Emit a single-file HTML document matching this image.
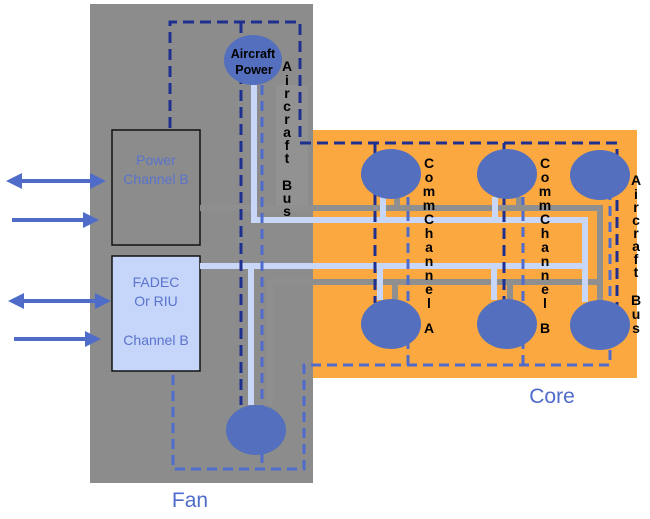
<!DOCTYPE html>
<html><head><meta charset="utf-8"><style>
html,body{margin:0;padding:0;background:#fff;}
svg{display:block;font-family:"Liberation Sans",sans-serif;}
</style></head><body>
<svg width="650" height="519" viewBox="0 0 650 519" xmlns="http://www.w3.org/2000/svg">
<defs>
<marker id="ah" markerWidth="4" markerHeight="4" refX="2.5" refY="2" orient="auto-start-reverse" markerUnits="strokeWidth"><path d="M0,0 L4,2 L0,4 Z" fill="#4f6cc8"/></marker>
</defs>
<rect x="90" y="4" width="223" height="479" fill="#8c8c8c"/>
<rect x="313" y="130" width="324" height="248" fill="#fca841"/>
<rect x="276" y="85" width="32" height="120" fill="#929292"/>
<rect x="112" y="130" width="88" height="115" fill="#8c8c8c" stroke="#111" stroke-width="1.5"/>
<rect x="112" y="256" width="88" height="115" fill="#c6d6fb" stroke="#111" stroke-width="1.5"/>
<g stroke="#8f8f8f" stroke-width="6" fill="none">
<path d="M200 208 H600 V282"/>
<path d="M270 405 V282 H600"/>
<path d="M397 197 V208 M519 197 V208 M395 282 V300 M510 282 V300 M600 282 V302"/>
</g>
<g stroke="#c8d6f8" stroke-width="6" fill="none">
<path d="M254 85 V220 H585 V302"/>
<path d="M200 266 H585"/>
<path d="M251 266 V405"/>
<path d="M383 197 V220 M495 197 V220 M380 266 V300 M494 266 V300"/>
</g>
<g stroke="#1f2f8f" stroke-width="3" fill="none" stroke-dasharray="11 6">
<path d="M170 128 V22 H300 V143 H617 V305"/>
<path d="M241 22 V405"/>
<path d="M375 143 V303 M504 143 V303"/>
</g>
<g stroke="#4f6ccc" stroke-width="3" fill="none" stroke-dasharray="10 6">
<path d="M173 375 V469 H304 V365 H610 V197"/>
<path d="M262 85 V470"/>
<path d="M408 365 V197 M523 365 V197"/>
</g>
<g fill="#536fbd">
<ellipse cx="253" cy="60" rx="29" ry="25"/>
<ellipse cx="256" cy="430" rx="30" ry="25"/>
<ellipse cx="391" cy="174" rx="30" ry="25"/>
<ellipse cx="507" cy="174" rx="30" ry="25"/>
<ellipse cx="600" cy="175" rx="30" ry="25"/>
<ellipse cx="391" cy="324" rx="30" ry="25"/>
<ellipse cx="507" cy="324" rx="30" ry="25"/>
<ellipse cx="600" cy="325" rx="30" ry="25"/>
</g>
<text x="253" y="58" font-size="12.5" font-weight="bold" text-anchor="middle" fill="#000">Aircraft</text>
<text x="254" y="74" font-size="12.5" font-weight="bold" text-anchor="middle" fill="#000">Power</text>
<g stroke="#4f6cc8" stroke-width="4" fill="none">
<path d="M12 181 H100" marker-start="url(#ah)" marker-end="url(#ah)"/>
<path d="M12 220 H93" marker-end="url(#ah)"/>
<path d="M14 301 H105" marker-start="url(#ah)" marker-end="url(#ah)"/>
<path d="M14 339 H95" marker-end="url(#ah)"/>
</g>
<g fill="#5a73cc" font-size="14" text-anchor="middle">
<text x="156" y="165">Power</text>
<text x="156" y="184">Channel B</text>
<text x="156" y="287">FADEC</text>
<text x="156" y="306">Or RIU</text>
<text x="156" y="345">Channel B</text>
</g>
<text x="190" y="507" font-size="21" fill="#4f6ccc" text-anchor="middle">Fan</text>
<text x="552" y="403" font-size="21" fill="#4f6ccc" text-anchor="middle">Core</text>
<g font-size="14" font-weight="bold" fill="#000" text-anchor="middle">
<text x="287" y="71">A</text><text x="287" y="85">i</text><text x="287" y="98">r</text><text x="287" y="111">c</text><text x="287" y="124">r</text><text x="287" y="137">a</text><text x="287" y="150">f</text><text x="287" y="163">t</text><text x="287" y="190">B</text><text x="287" y="203">u</text><text x="287" y="216">s</text>
<text x="429" y="168">C</text><text x="429" y="182">o</text><text x="429" y="196">m</text><text x="429" y="210">m</text><text x="429" y="224">C</text><text x="429" y="238">h</text><text x="429" y="252">a</text><text x="429" y="266">n</text><text x="429" y="280">n</text><text x="429" y="294">e</text><text x="429" y="308">l</text><text x="429" y="333">A</text>
<text x="545" y="168">C</text><text x="545" y="182">o</text><text x="545" y="196">m</text><text x="545" y="210">m</text><text x="545" y="224">C</text><text x="545" y="238">h</text><text x="545" y="252">a</text><text x="545" y="266">n</text><text x="545" y="280">n</text><text x="545" y="294">e</text><text x="545" y="308">l</text><text x="545" y="333">B</text>
<text x="636" y="185">A</text><text x="636" y="199">i</text><text x="636" y="212">r</text><text x="636" y="225">c</text><text x="636" y="238">r</text><text x="636" y="251">a</text><text x="636" y="264">f</text><text x="636" y="277">t</text><text x="636" y="305">B</text><text x="636" y="319">u</text><text x="636" y="333">s</text>
</g>
</svg>
</body></html>
